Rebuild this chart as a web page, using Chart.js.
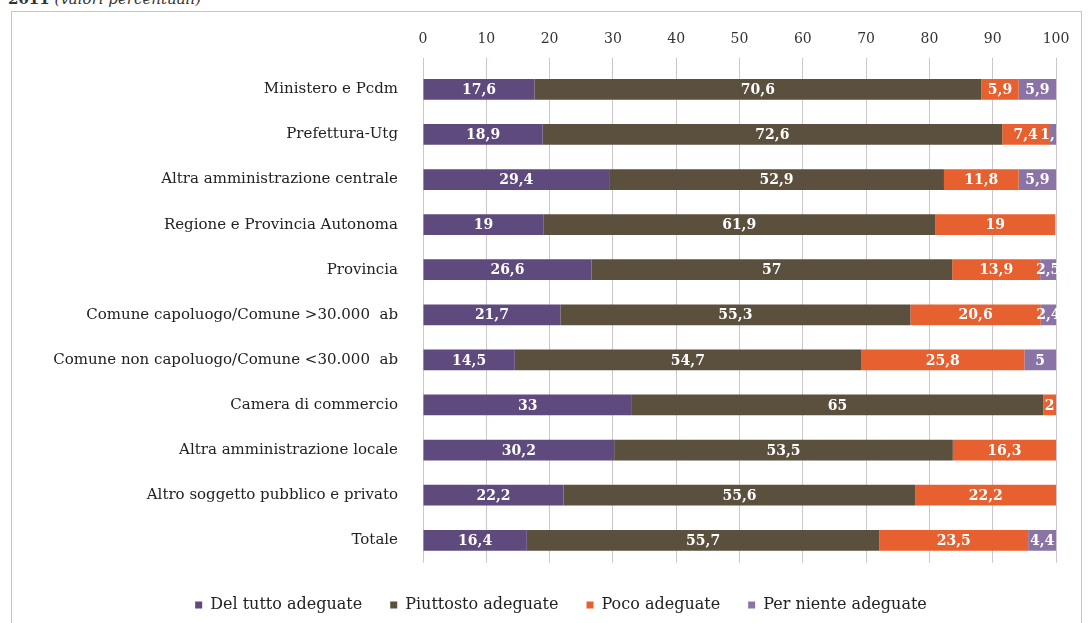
<!DOCTYPE html>
<html>
<head>
<meta charset="utf-8">
<script src="https://cdn.jsdelivr.net/npm/chart.js@4"></script>
<style>
  body { margin: 0; background: #fff; overflow: hidden; }
  #title { position: absolute; left: 8px; top: -10px; font-family: "DejaVu Serif", serif; font-size: 15px; color: #333; }
  #frame { position: absolute; left: 11px; top: 11px; width: 1069px; height: 640px; border: 1px solid #c9c3c6; }
  #wrap { position: absolute; left: 0; top: 0; width: 1092px; height: 623px; }
</style>
</head>
<body>
<div id="title"><b>2011</b> <i>(valori percentuali)</i></div>
<div id="frame"></div>
<div id="wrap"><canvas id="myBarChart"></canvas></div>
<script>
// Categories and series (percent values)

const categories = [
  "Ministero e Pcdm",
  "Prefettura-Utg",
  "Altra amministrazione centrale",
  "Regione e Provincia Autonoma",
  "Provincia",
  "Comune capoluogo/Comune >30.000  ab",
  "Comune non capoluogo/Comune <30.000  ab",
  "Camera di commercio",
  "Altra amministrazione locale",
  "Altro soggetto pubblico e privato",
  "Totale"
];

const delTutto    = [17.6, 18.9, 29.4, 19, 26.6, 21.7, 14.5, 33, 30.2, 22.2, 16.4];
const piuttosto   = [70.6, 72.6, 52.9, 61.9, 57, 55.3, 54.7, 65, 53.5, 55.6, 55.7];
const poco        = [5.9, 7.4, 11.8, 19, 13.9, 20.6, 25.8, 2, 16.3, 22.2, 23.5];
const perNiente   = [5.9, 1.1, 5.9, 0, 2.5, 2.4, 5, 0, 0, 0, 4.4];

const xTicks = [0, 10, 20, 30, 40, 50, 60, 70, 80, 90, 100];

const serif = "'DejaVu Serif', serif";

// values inside bars
const barLabels = {
  id: 'barLabels',
  afterDatasetsDraw(chart) {
    const ctx = chart.ctx;
    ctx.save();
    ctx.font = "bold 14px " + serif;
    ctx.fillStyle = "#fff";
    ctx.textAlign = "center";
    ctx.textBaseline = "middle";
    chart.data.datasets.forEach((ds, i) => {
      const meta = chart.getDatasetMeta(i);
      meta.data.forEach((bar, j) => {
        const v = ds.data[j];
        if (!v) return;
        ctx.fillText(String(v).replace('.', ','), (bar.x + bar.base) / 2, bar.y + 1);
      });
    });
    ctx.restore();
  }
};

// legend sits a bit right of the canvas centre
const legendShift = {
  id: 'legendShift',
  afterLayout(chart) {
    if (chart.legend) chart.legend.left += 66;
  }
};

let barChart = document.getElementById("myBarChart");

let myBarChart = new Chart(barChart, {
  type: 'bar',
  data: {
    labels: categories,
    datasets: [
      { label: "Del tutto adeguate", data: delTutto, backgroundColor: "#5e4a7c" },
      { label: "Piuttosto adeguate", data: piuttosto, backgroundColor: "#5b4f3d" },
      { label: "Poco adeguate", data: poco, backgroundColor: "#e7602f" },
      { label: "Per niente adeguate", data: perNiente, backgroundColor: "#8a74a6" }
    ]
  },
  options: {
    indexAxis: 'y',
    responsive: true,
    maintainAspectRatio: false,
    animation: false,
    datasets: {
      bar: { barPercentage: 0.46, categoryPercentage: 1, borderWidth: 0 }
    },
    layout: { padding: { left: 0, right: 36, top: 21, bottom: 0 } },
    scales: {
      x: {
        position: 'top',
        stacked: true,
        min: 0,
        max: 100,
        afterBuildTicks: (axis) => { axis.ticks = xTicks.map(v => ({ value: v })); },
        grid: { color: "#cfc6cc", drawTicks: true, tickLength: 9 },
        border: { display: false },
        ticks: { color: "#333", font: { family: serif, size: 14 }, padding: 10 }
      },
      y: {
        stacked: true,
        afterFit: (axis) => { axis.width = 423; },
        grid: { display: false },
        border: { display: false },
        ticks: { color: "#222", font: { family: serif, size: 15 }, padding: 17 }
      }
    },
    plugins: {
      legend: {
        position: 'bottom',
        title: { display: true, text: ' ', font: { size: 1 }, padding: { top: 0, bottom: 5 } },
        labels: {
          color: "#222",
          font: { family: serif, size: 16 },
          boxWidth: 7,
          boxHeight: 7,
          padding: 28
        }
      },
      tooltip: { enabled: false }
    }
  },
  plugins: [barLabels, legendShift]
});
</script>
</body>
</html>
